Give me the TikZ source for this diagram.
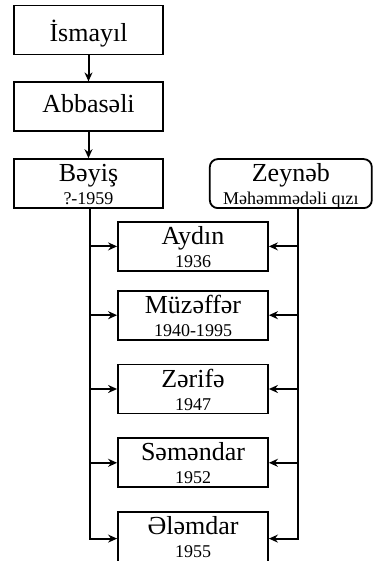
\documentclass[tikz,border=0pt]{standalone}
\usepackage{fontspec}
\setmainfont{Liberation Serif}
\usetikzlibrary{positioning, calc, arrows.meta}
\newcommand{\yearfont}{\fontsize{18}{23}\selectfont}

\begin{document}
\begin{tikzpicture}[every node/.style={draw, line width=1.8pt, minimum width=149pt, minimum height=49pt,
    inner sep=0pt, align=center, font=\fontsize{26}{23}\selectfont},
    twoline/.style={text height=45pt, text depth=3pt},
    edge line/.style={line width=2pt, -{Stealth[length=9pt, width=8pt]}}, node distance=26pt]
  \useasboundingbox (-88.5pt,30pt) rectangle (285.5pt,-531pt);

  % Ata xetti
  \node[text height=24pt, text depth=1pt] (ismayil) {İsmayıl};
  \node[text height=18pt, text depth=7pt, below=of ismayil] (abbaseli) {Abbasəli};
  \node[twoline, below=of abbaseli] (beyis) {Bəyiş\\{\yearfont ?-1959}};
  \node[twoline, rounded corners=8pt, minimum width=162pt, right=45pt of beyis] (zeyneb) {Zeynəb\\{\yearfont Məhəmmədəli qızı}};

  % Usaqlar
  \node[twoline, minimum width=150pt, below=12pt of beyis, xshift=104.5pt] (aydin) {Aydın\\{\yearfont 1936}};
  \node[twoline, minimum width=150pt, below=18pt of aydin] (muzeffer) {Müzəffər\\{\yearfont 1940-1995}};
  \node[twoline, minimum width=150pt, below=23pt of muzeffer] (zerife) {Zərifə\\{\yearfont 1947}};
  \node[twoline, minimum width=150pt, below=23pt of zerife] (semendar) {Səməndar\\{\yearfont 1952}};
  \node[twoline, text depth=7pt, minimum width=150pt, minimum height=53pt, below=23pt of semendar] (elemdar) {Ələmdar\\{\yearfont 1955}};

  \coordinate (ata) at ($(beyis.south)+(1.5pt,0)$);
  \coordinate (ana) at ($(zeyneb.south)+(7pt,0)$);

  % Oxlar
  \draw[edge line] (ismayil) -- (abbaseli);
  \draw[edge line] (abbaseli) -- (beyis);
  \foreach \c in {aydin, muzeffer, zerife, semendar, elemdar} {
    \draw[edge line] (ata) |- (\c.west);
    \draw[edge line] (ana) |- (\c.east);
  }
\end{tikzpicture}
\end{document}
